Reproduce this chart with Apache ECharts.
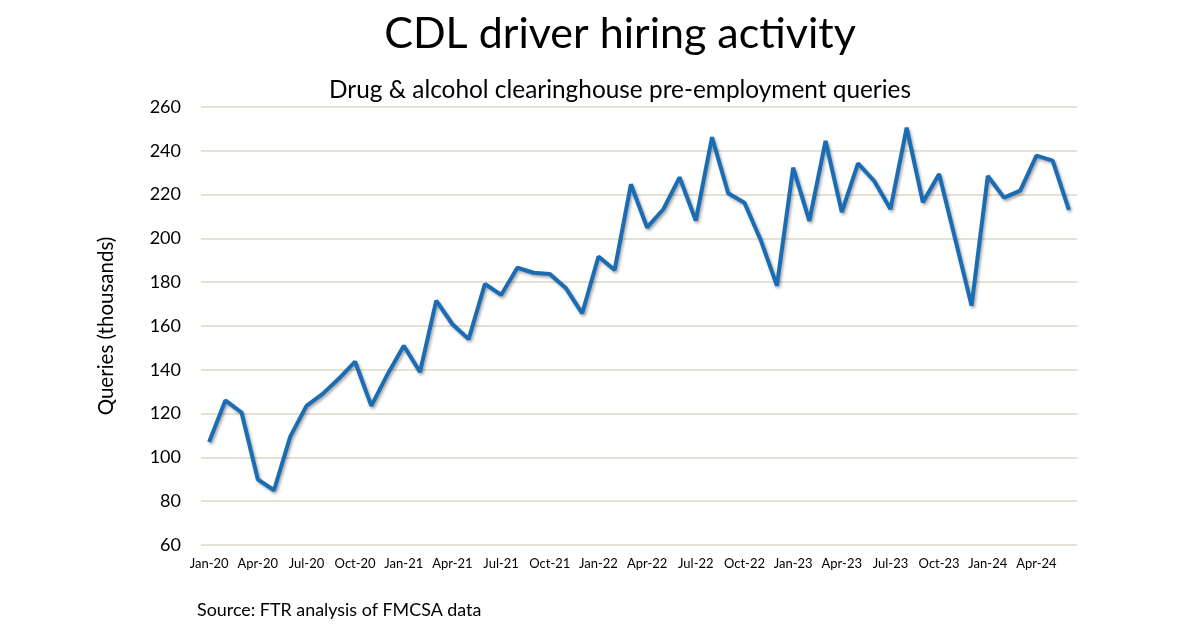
<!DOCTYPE html>
<html><head><meta charset="utf-8">
<script src="https://cdn.jsdelivr.net/npm/echarts@6/dist/echarts.min.js"></script>
<style>html,body{margin:0;padding:0;background:#fff}#c{width:1200px;height:628px}</style>
</head><body><div id="c"></div>
<script>
const months = ['Jan','Feb','Mar','Apr','May','Jun','Jul','Aug','Sep','Oct','Nov','Dec'];
const categories = [];
for (let y = 20; y <= 24; y++) for (let m = 0; m < 12; m++) { if (y === 24 && m > 5) break; categories.push(months[m] + '-' + y); }
const queries = [
  107, 126, 120.5, 90, 85, 109.5, 123.5, 129, 136, 143.7, 123.5, 138,
  151, 139, 171.6, 160.8, 154, 179.2, 174.2, 186.6, 184.3, 183.7, 177.2, 165.8,
  191.7, 185.6, 224.7, 205, 213.3, 227.9, 208.1, 246.2, 220.6, 216.3, 199.3, 178.4,
  232.3, 208, 244.5, 212, 234.3, 226.2, 213.4, 250.6, 216.5, 229.4, 199.5, 169.3,
  228.5, 218.6, 221.8, 237.8, 235.5, 213
];
const yTicks = { min: 60, max: 260, interval: 20 };
const font = 'Lato, "Open Sans", sans-serif';
const chart = echarts.init(document.getElementById('c'));
chart.setOption({
  backgroundColor: '#fff',
  animation: false,
  title: [
    { text: 'CDL driver hiring activity', left: 615, top: 8, textAlign: 'center',
      textStyle: { fontFamily: font, fontSize: 43, fontWeight: 'normal', color: '#000' } },
    { text: 'Drug & alcohol clearinghouse pre-employment queries', left: 615, top: 73, textAlign: 'center',
      textStyle: { fontFamily: font, fontSize: 24.4, fontWeight: 'normal', color: '#000' } },
    { text: 'Source: FTR analysis of FMCSA data', left: 192, top: 596,
      textStyle: { fontFamily: font, fontSize: 17.9, fontWeight: 'normal', color: '#000' } }
  ],
  grid: { left: 201, right: 123, top: 107, bottom: 83 },
  xAxis: {
    type: 'category', data: categories, boundaryGap: true,
    axisLine: { show: false }, axisTick: { show: false },
    axisLabel: { interval: 2, fontFamily: font, fontSize: 13, color: '#000', margin: 12 }
  },
  yAxis: {
    type: 'value', min: yTicks.min, max: yTicks.max, interval: yTicks.interval,
    name: 'Queries (thousands)', nameLocation: 'middle', nameGap: 84, nameRotate: 90,
    nameTextStyle: { fontFamily: font, fontSize: 20.5, color: '#000' },
    axisLine: { show: false }, axisTick: { show: false },
    axisLabel: { fontFamily: font, fontSize: 18, color: '#000', margin: 20 },
    splitLine: { lineStyle: { color: '#DDD8C4', width: 1.5 } }
  },
  series: [{
    type: 'line', data: queries, symbol: 'none',
    lineStyle: { color: '#1A6DB5', width: 4, shadowColor: 'rgba(0,0,0,0.35)', shadowBlur: 3, shadowOffsetX: 1.5, shadowOffsetY: 2 }
  }]
});
</script></body></html>
